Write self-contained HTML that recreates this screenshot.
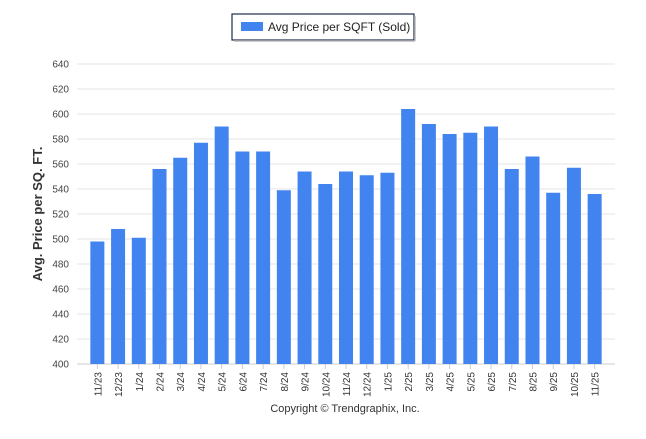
<!DOCTYPE html>
<html><head><meta charset="utf-8"><style>
body{margin:0;background:#fff;width:646px;height:434px;overflow:hidden;font-family:"Liberation Sans",sans-serif}
</style></head><body>
<svg id="c" width="646" height="434">
<rect x="232" y="14" width="182" height="26" fill="#fff" stroke="#1f2d4d" stroke-width="1.2"/>
<line x1="234" y1="41" x2="415" y2="41" stroke="#bbb" stroke-width="1.5"/>
<line x1="415" y1="16" x2="415" y2="41" stroke="#bbb" stroke-width="1.5"/>
<rect x="241" y="22" width="22" height="9" fill="#4184f0"/>
<text x="268" y="31" font-size="12" fill="#222">Avg Price per SQFT (Sold)</text>
<text transform="translate(42,214) rotate(-90)" text-anchor="middle" font-size="13" font-weight="bold" fill="#333">Avg. Price per SQ. FT.</text>
<text x="345" y="412" text-anchor="middle" font-size="11" fill="#333">Copyright © Trendgraphix, Inc.</text>
<g id="g"></g>
</svg>
<script>
const categories=["11/23","12/23","1/24","2/24","3/24","4/24","5/24","6/24","7/24","8/24","9/24","10/24","11/24","12/24","1/25","2/25","3/25","4/25","5/25","6/25","7/25","8/25","9/25","10/25","11/25"];
const values=[498,508,501,556,565,577,590,570,570,539,554,544,554,551,553,604,592,584,585,590,556,566,537,557,536];
const yTicks=[400,420,440,460,480,500,520,540,560,580,600,620,640];
const ns="http://www.w3.org/2000/svg",g=document.getElementById('g');
const X0=77,X1=615,Y0=364,Y1=64,yMin=400,yMax=640;
const band=(X1-X0-20)/categories.length;
const y=v=>Y0-(v-yMin)/(yMax-yMin)*(Y0-Y1);
const xc=i=>X0+10+band*(i+0.5);
function mk(t,a){const e=document.createElementNS(ns,t);for(const k in a)e.setAttribute(k,a[k]);g.appendChild(e);return e;}
yTicks.forEach(t=>{
 const l=mk('line',{x1:X0,x2:X1,y1:y(t),y2:y(t),stroke:t===yMin?'#ccc':'#e6e6e6'});
 
 
 const tx=mk('text',{x:X0-8,y:y(t)+3.5,'text-anchor':'end','font-size':'10',fill:'#444'});
 tx.textContent=t;
 
 
});
categories.forEach((c,i)=>{
 const r=mk('rect',{x:xc(i)-7,y:y(values[i]),width:14,height:Y0-y(values[i]),fill:'#4184f0'});
 
 
 const tk=mk('line',{x1:xc(i),x2:xc(i),y1:Y0,y2:Y0+5,stroke:'#ccc'});
 
 
 const t=mk('text',{transform:`translate(${xc(i)+4},${Y0+8}) rotate(-90)`,'text-anchor':'end','font-size':'10',fill:'#333'});
 t.textContent=c;
 
 
});
</script>
</body></html>
